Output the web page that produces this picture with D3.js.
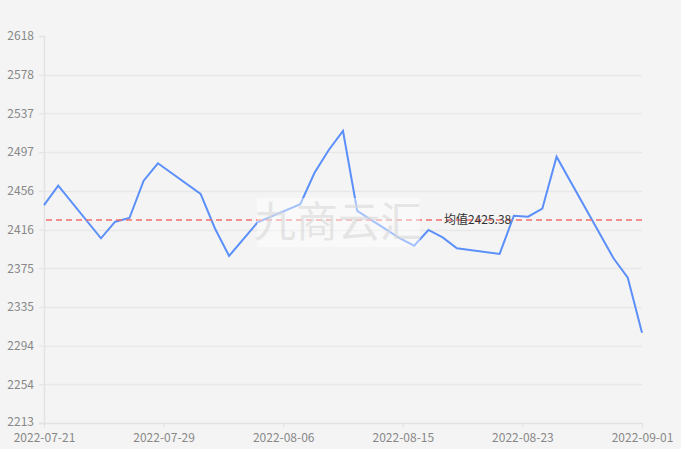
<!DOCTYPE html>
<html>
<head>
<meta charset="utf-8">
<script src="https://cdn.jsdelivr.net/npm/d3@7/dist/d3.min.js"></script>
<style>
  html, body { margin: 0; padding: 0; background: #f4f4f4; }
  svg { display: block; }
  text { font-family: "Noto Sans CJK SC", "Noto Sans", sans-serif; }
</style>
</head>
<body>
<svg id="chart" width="681" height="449"></svg>
<script>
// ---- data ----
const dates = [
  "2022-07-21","2022-07-22","2022-07-25","2022-07-26","2022-07-27","2022-07-28","2022-07-29",
  "2022-08-01","2022-08-02","2022-08-03","2022-08-05","2022-08-08","2022-08-09","2022-08-10",
  "2022-08-11","2022-08-12","2022-08-15","2022-08-16","2022-08-17","2022-08-18","2022-08-19",
  "2022-08-22","2022-08-23","2022-08-24","2022-08-25","2022-08-26","2022-08-30","2022-08-31",
  "2022-09-01"
];
const prices = [
  2441.1, 2461.3, 2406.3, 2423.7, 2427.5, 2466.6, 2484.8,
  2452.7, 2416.8, 2387.8, 2423.0, 2441.9, 2474.9, 2498.7,
  2518.6, 2434.9, 2406.3, 2398.5, 2415.0, 2407.3, 2395.8,
  2389.9, 2429.9, 2428.9, 2437.3, 2491.7, 2385.4, 2365.1,
  2307.5
];
const meanValue = 2425.38;
const meanLabel = "均值2425.38";
const yTickValues = [2213, 2253.5, 2294, 2334.5, 2375, 2415.5, 2456, 2496.5, 2537, 2577.5, 2618];
const xTickLabels = ["2022-07-21","2022-07-29","2022-08-06","2022-08-15","2022-08-23","2022-09-01"];
const watermarkText = "九商云汇";

// ---- layout ----
const margin = { left: 44, right: 39, top: 36, bottom: 26 };
const W = 681, H = 449;
const svg = d3.select("#chart");
const parse = d3.timeParse("%Y-%m-%d");
const data = dates.map((d, i) => ({ date: parse(d), value: prices[i] }));

const x0 = parse(xTickLabels[0]), x1 = parse(xTickLabels[xTickLabels.length - 1]);
const x = d3.scaleTime().domain([x0, x1]).range([margin.left, W - margin.right]);
const y = d3.scaleLinear().domain([yTickValues[0], yTickValues[yTickValues.length - 1]])
  .range([H - margin.bottom, margin.top]);

// grid lines
svg.append("g").selectAll("line")
  .data(yTickValues.slice(1, -1))
  .join("line")
  .attr("x1", margin.left).attr("x2", W - margin.right)
  .attr("y1", d => Math.round(y(d)) + 0.5).attr("y2", d => Math.round(y(d)) + 0.5)
  .attr("stroke", "#e8e8e8").attr("stroke-width", 1.5);

// y axis
const yAxis = svg.append("g")
  .attr("transform", `translate(${margin.left},0)`)
  .call(d3.axisLeft(y).tickValues(yTickValues).tickFormat(d => Math.round(d)).tickSize(5).tickPadding(5));
yAxis.select(".domain").attr("stroke", "#e2e2e2").attr("stroke-width", 1.5);
yAxis.selectAll(".tick line").attr("stroke", "#e2e2e2");
yAxis.selectAll("text").attr("fill", "#888").attr("font-size", 12);
// lift the bottom label a touch so it clears the x labels
yAxis.selectAll(".tick").filter(d => d === yTickValues[0]).select("text").attr("dy", "0.2em");

// x axis
const span = x1 - x0;
const xTickDates = xTickLabels.map((_, i) => new Date(+x0 + span * i / (xTickLabels.length - 1)));
const xAxis = svg.append("g")
  .attr("transform", `translate(0,${H - margin.bottom})`)
  .call(d3.axisBottom(x).tickValues(xTickDates).tickFormat((d, i) => xTickLabels[i]).tickSize(5).tickPadding(5).tickSizeOuter(0));
xAxis.select(".domain").attr("stroke", "#e2e2e2").attr("stroke-width", 1.5)
  .attr("d", `M${margin.left - 5},0.5H${W - margin.right}`);
xAxis.selectAll(".tick line").attr("stroke", "#e2e2e2");
xAxis.selectAll("text").attr("fill", "#888").attr("font-size", 12);

// line
const line = d3.line().x(d => x(d.date)).y(d => y(d.value));
svg.append("path").datum(data)
  .attr("d", line)
  .attr("fill", "none")
  .attr("stroke", "#5b8ff9")
  .attr("stroke-width", 2)
  .attr("stroke-linejoin", "miter");

// mean line
svg.append("line")
  .attr("x1", margin.left + 2).attr("x2", W - margin.right)
  .attr("y1", y(meanValue)).attr("y2", y(meanValue))
  .attr("stroke", "#f26d6d").attr("stroke-width", 1.6)
  .attr("stroke-dasharray", "6,4");
svg.append("text")
  .attr("x", x(parse("2022-08-15")) + 44)
  .attr("y", y(meanValue))
  .attr("dy", "0.35em")
  .attr("fill", "#333")
  .attr("font-size", 12)
  .text(meanLabel);

// watermark
const wm = svg.append("g");
wm.append("rect")
  .attr("x", 257).attr("y", 198).attr("width", 163).attr("height", 49)
  .attr("fill", "#ffffff").attr("fill-opacity", 0.45);
wm.append("text")
  .attr("x", 338).attr("y", 222)
  .attr("text-anchor", "middle").attr("dy", "0.36em")
  .attr("font-size", 42)
  .attr("fill", "#d8d8d8").attr("fill-opacity", 0.6)
  .text(watermarkText);
</script>
</body>
</html>
